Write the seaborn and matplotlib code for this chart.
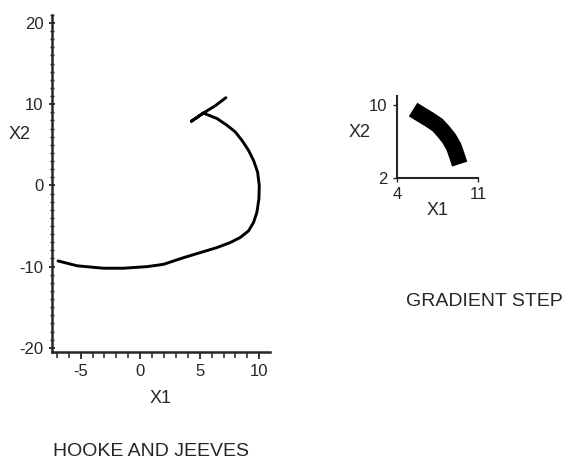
import seaborn as sns
import pandas as pd
import matplotlib.pyplot as plt
from matplotlib.ticker import MultipleLocator

# Hooke and Jeeves path
hj_x1 = [7.2, 6.3, 5.3, 4.3, 5.3, 6.44, 7.28, 7.98, 8.54, 9.10, 9.52, 9.86, 10.0, 9.97,
         9.80, 9.52, 9.10, 8.40, 7.56, 6.44, 5.04, 3.64, 1.96, 0.6, -1.4, -3.1, -5.3, -6.9]
hj_x2 = [10.8, 9.8, 8.9, 7.9, 8.9, 8.24, 7.41, 6.59, 5.55, 4.31, 3.07, 1.63, 0.0, -1.67,
         -3.32, -4.56, -5.60, -6.42, -7.04, -7.66, -8.28, -8.90, -9.72, -10.0, -10.2, -10.2,
         -9.9, -9.3]

# Gradient step path
gs_x1 = [5.4, 5.9, 6.8, 7.5, 8.0, 8.5, 8.9, 9.2, 9.4]
gs_x2 = [9.5, 9.1, 8.4, 7.8, 7.1, 6.3, 5.4, 4.3, 3.5]

sns.set_style("ticks")
plt.rcParams["font.family"] = ["Liberation Sans", "DejaVu Sans"]
plt.rcParams["axes.unicode_minus"] = False

hj = pd.DataFrame({"X1": hj_x1, "X2": hj_x2})
gs = pd.DataFrame({"X1": gs_x1, "X2": gs_x2})

fig = plt.figure(figsize=(5.66, 4.63), dpi=100)
ax = fig.add_axes([0.092, 0.240, 0.385, 0.728])
sns.lineplot(data=hj, x="X1", y="X2", sort=False, estimator=None, ax=ax,
             color="black", lw=2.1)
ax.set_xlim(-7.4, 10.9)
ax.set_ylim(-20.5, 21)
ax.xaxis.set_major_locator(MultipleLocator(5))
ax.xaxis.set_minor_locator(MultipleLocator(1))
ax.yaxis.set_major_locator(MultipleLocator(10))
ax.yaxis.set_minor_locator(MultipleLocator(1))
ax.tick_params(which="major", length=5, width=1.3, labelsize=12)
ax.tick_params(axis="x", which="minor", length=4.5, width=1.1)
ax.tick_params(axis="y", which="minor", length=3, width=1)
ax.tick_params(axis="y", which="both", direction="inout")
for s in ["left", "bottom"]:
    ax.spines[s].set_linewidth(1.8)
sns.despine(ax=ax)
ax.set_xlabel("X1", fontsize=13, labelpad=8)
ax.set_ylabel("X2", fontsize=13, rotation=0)
ax.yaxis.set_label_coords(-0.15, 0.62)
fig.text(0.267, 0.024, "HOOKE AND JEEVES", ha="center", va="center", fontsize=14)

ax2 = fig.add_axes([0.701, 0.616, 0.144, 0.177])
sns.lineplot(data=gs, x="X1", y="X2", sort=False, estimator=None, ax=ax2,
             color="black", lw=11.5, solid_capstyle="butt")
ax2.set_xlim(4, 11)
ax2.set_ylim(2, 11)
ax2.set_xticks([4, 11])
ax2.set_yticks([2, 10])
ax2.tick_params(length=3, width=1, labelsize=12)
for s in ["left", "bottom"]:
    ax2.spines[s].set_linewidth(1.5)
sns.despine(ax=ax2)
ax2.set_xlabel("X1", fontsize=13, labelpad=0)
ax2.set_ylabel("X2", fontsize=13, rotation=0)
ax2.yaxis.set_label_coords(-0.45, 0.45)
fig.text(0.855, 0.348, "GRADIENT STEP", ha="center", va="center", fontsize=14)

fig.savefig("out.png", dpi=100, facecolor="white")
